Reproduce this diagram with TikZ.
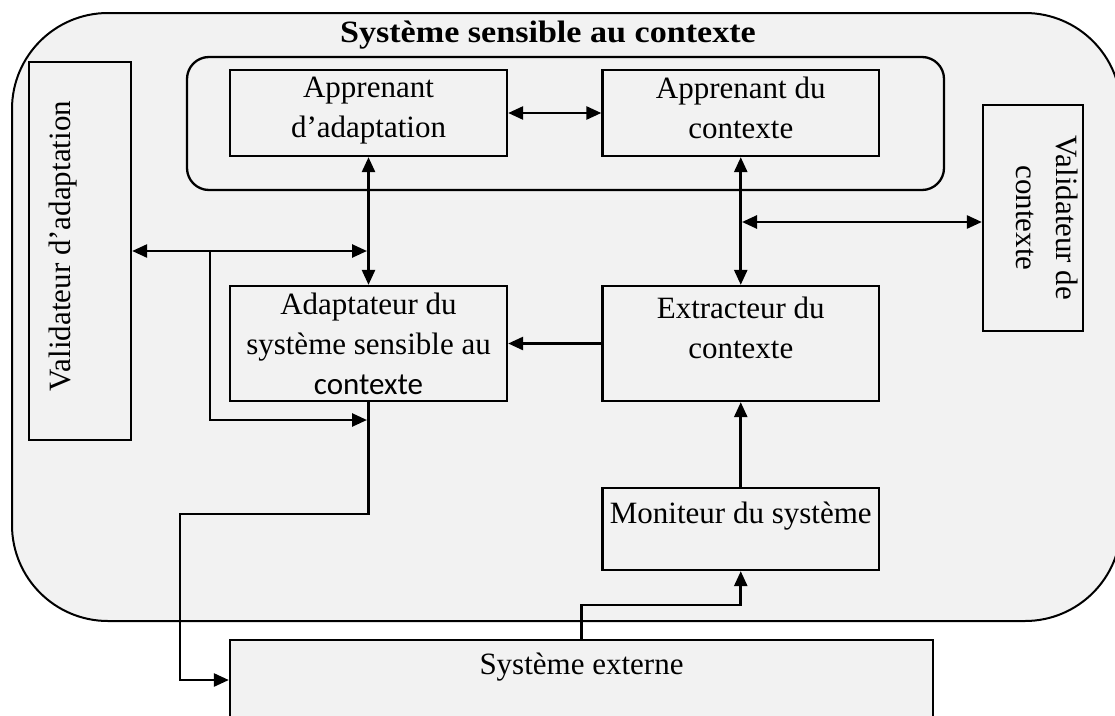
\documentclass[tikz,border=0pt]{standalone}
\usepackage{fontspec}
\setmainfont{Liberation Serif}
\newfontfamily\sansfont{Carlito}
\newfontfamily\headfont[FakeStretch=1.1]{Liberation Serif}
\usetikzlibrary{arrows.meta}
\definecolor{panel}{HTML}{F2F2F2}

\begin{document}
\begin{tikzpicture}[x=1pt,y=-1pt,
  >={Triangle[length=15pt,width=13pt]},
  box/.style={rectangle, draw=black, line width=2.3pt, fill=panel, inner sep=0pt},
  lbl/.style={inner sep=0pt, align=center, font=\fontsize{31}{40}\selectfont},
  link/.style={draw=black, line width=2.6pt}
]
\useasboundingbox (0,0) rectangle (1115,715);
\clip (0,0) rectangle (1115,715);

% outer system frame and the group of learners
\node[rectangle, draw=black, line width=2pt, fill=panel, rounded corners=96pt,
      minimum width=1109pt, minimum height=608pt, inner sep=0pt] (outer) at (566.5,317) {};
\node[inner sep=0pt, anchor=base, font=\headfont\bfseries\fontsize{31}{40}\selectfont]
      (title) at (548,42) {Système sensible au contexte};
\node[rectangle, draw=black, line width=2.3pt, rounded corners=22pt,
      minimum width=757pt, minimum height=133pt, inner sep=0pt] (group) at (565.5,123.5) {};

% component boxes
\node[box, minimum width=277pt, minimum height=86pt]  (appa)  at (368.5,113) {};
\node[box, minimum width=276.5pt, minimum height=86pt] (appc) at (740.75,113) {};
\node[box, minimum width=277pt, minimum height=115pt] (adapt) at (368.5,343.5) {};
\node[box, minimum width=276.5pt, minimum height=115pt] (extr) at (740.75,343.5) {};
\node[box, minimum width=276.5pt, minimum height=82pt] (mon)  at (740.75,529) {};
\node[box, minimum width=703pt, minimum height=80pt]  (ext)   at (581.5,680) {};
\node[box, minimum width=102pt, minimum height=378pt] (vala)  at (80,251) {};
\node[box, minimum width=100pt, minimum height=226pt] (valc)  at (1033,218) {};

% connectors
\draw[link,<->] (appa.east) -- (appc.west);
\draw[link,<->] (appa.south) -- (adapt.north);
\coordinate (ja) at (367,251);
\draw[link,<->] (vala.east) -- (ja);
\coordinate (jb) at (210,251);
\coordinate (jc) at (367,420);
\draw[link,->] (jb) |- (jc);
\coordinate (k1) at (180,514);
\draw[link,->] (adapt.south) |- (k1) |- (ext.west);
\draw[link,<->] (appc.south) -- (extr.north);
\coordinate (jd) at (742,222);
\draw[link,<->] (jd) -- (valc.west |- jd);
\draw[link,->] (extr.west) -- (adapt.east);
\draw[link,->] (mon.north) -- (extr.south);
\coordinate (k2) at (581.5,605);
\draw[link,->] (ext.north) -- (k2) -| (mon.south);

% texts
\node[lbl, anchor=north] (appa-t)  at ([yshift=-8pt]appa.north)  {Apprenant\\d’adaptation};
\node[lbl, anchor=north] (appc-t)  at ([yshift=-8pt]appc.north)  {Apprenant du\\contexte};
\node[lbl, anchor=north] (adapt-t) at ([yshift=-8pt]adapt.north) {Adaptateur du\\système sensible au\\{\sansfont contexte}};
\node[lbl, anchor=north] (extr-t)  at ([yshift=-12pt]extr.north) {Extracteur du\\contexte};
\node[lbl, anchor=north] (mon-t)   at ([yshift=-15pt]mon.north)  {Moniteur du système};
\node[lbl, anchor=north] (ext-t)   at ([yshift=-14pt]ext.north)  {Système externe};
\node[lbl, rotate=90, anchor=base] (vala-t) at (70,246) {Validateur d’adaptation};
\node[lbl, rotate=-90, anchor=north] (valc-t) at (1078,218) {Validateur de\\contexte};
\end{tikzpicture}
\end{document}
